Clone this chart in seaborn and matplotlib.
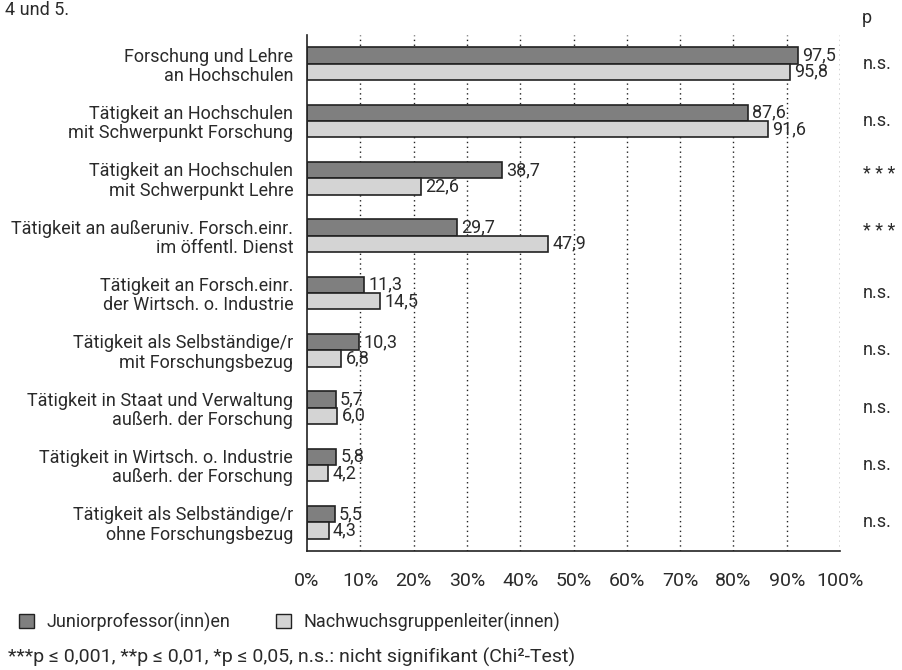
import pandas as pd
import seaborn as sns
import matplotlib.pyplot as plt
from matplotlib.patches import Patch

categories = [
    "Forschung und Lehre\nan Hochschulen",
    "Tätigkeit an Hochschulen\nmit Schwerpunkt Forschung",
    "Tätigkeit an Hochschulen\nmit Schwerpunkt Lehre",
    "Tätigkeit an außeruniv. Forsch.einr.\nim öffentl. Dienst",
    "Tätigkeit an Forsch.einr.\nder Wirtsch. o. Industrie",
    "Tätigkeit als Selbständige/r\nmit Forschungsbezug",
    "Tätigkeit in Staat und Verwaltung\naußerh. der Forschung",
    "Tätigkeit in Wirtsch. o. Industrie\naußerh. der Forschung",
    "Tätigkeit als Selbständige/r\nohne Forschungsbezug",
]
junior = [97.5, 87.6, 38.7, 29.7, 11.3, 10.3, 5.7, 5.8, 5.5]
nachwuchs = [95.8, 91.6, 22.6, 47.9, 14.5, 6.8, 6.0, 4.2, 4.3]
signif = ["n.s.", "n.s.", "* * *", "* * *", "n.s.", "n.s.", "n.s.", "n.s.", "n.s."]
groups = ["Juniorprofessor(inn)en", "Nachwuchsgruppenleiter(innen)"]
tick_pct = list(range(0, 101, 10))
colors = ["#7f7f7f", "#d4d4d4"]

# in the original the percent scale is a bit wider than the bars (bars ~94.5 %)
axis_scale = 0.945
tick_pos = [t / axis_scale for t in tick_pct]

df = pd.DataFrame({
    "cat": categories * 2,
    "val": junior + nachwuchs,
    "group": [groups[0]] * len(categories) + [groups[1]] * len(categories),
})

sns.set_style("white")
plt.rcParams["font.family"] = ["Roboto", "DejaVu Sans"]
plt.rcParams["text.color"] = "#2a2a2a"
plt.rcParams["xtick.color"] = "#2a2a2a"
plt.rcParams["ytick.color"] = "#2a2a2a"

fig = plt.figure(figsize=(9.02, 6.7), dpi=100)
ax = fig.add_axes([0.3404, 0.1776, 0.5909, 0.7702])

sns.barplot(data=df, y="cat", x="val", hue="group", palette=colors,
            width=0.57, edgecolor="#222222", linewidth=1.2, legend=False,
            ax=ax, orient="h")

for cont, vals in zip(ax.containers, [junior, nachwuchs]):
    ax.bar_label(cont, labels=[f"{v:.1f}".replace(".", ",") for v in vals],
                 padding=3, fontsize=13, color="#2a2a2a")

ax.set_xlim(0, tick_pos[-1])
ax.set_ylim(len(categories) - 0.5, -0.5)
ax.set_xticks(tick_pos)
ax.set_xticklabels([f"{t}%" for t in tick_pct], fontsize=14)
ax.set_yticks(range(len(categories)))
ax.set_yticklabels(categories, fontsize=13, linespacing=1.1)
ax.set_yticks([i - 0.5 for i in range(len(categories) + 1)], minor=True)
ax.tick_params(axis="y", which="major", length=0, pad=10)
ax.tick_params(axis="y", which="minor", length=7, width=1.2, direction="out", color="#222222")
ax.tick_params(axis="x", which="major", length=7, width=1.2, direction="out", color="#222222", pad=8)
ax.set_xlabel("")
ax.set_ylabel("")

for x in tick_pos[1:]:
    ax.axvline(x, color="#222222", linestyle=(0, (1, 2.5)), linewidth=1, zorder=0)

for s in ["top", "right"]:
    ax.spines[s].set_visible(False)
for s in ["left", "bottom"]:
    ax.spines[s].set_color("#222222")
    ax.spines[s].set_linewidth(1.2)

for i, s in enumerate(signif):
    ax.text(1.043, i - (0.08 if s.startswith("*") else 0), s, transform=ax.get_yaxis_transform(),
            ha="left", va="center", fontsize=13)
fig.text(0.955, 0.973, "p", ha="left", va="center", fontsize=13)
fig.text(0.006, 0.999, "4 und 5.", ha="left", va="top", fontsize=13)

handles = [Patch(facecolor=c, edgecolor="#222222", linewidth=1) for c in colors]
fig.legend(handles, groups, loc="center left", bbox_to_anchor=(0.011, 0.0716),
           ncol=2, frameon=False, fontsize=13, borderpad=0, handlelength=0.83, handleheight=0.83,
           handletextpad=0.72, columnspacing=2.5)
fig.text(0.009, 0.0194, "***p ≤ 0,001, **p ≤ 0,01, *p ≤ 0,05, n.s.: nicht signifikant (Chi²-Test)",
         ha="left", va="center", fontsize=14)

fig.savefig("out.png", dpi=100)
